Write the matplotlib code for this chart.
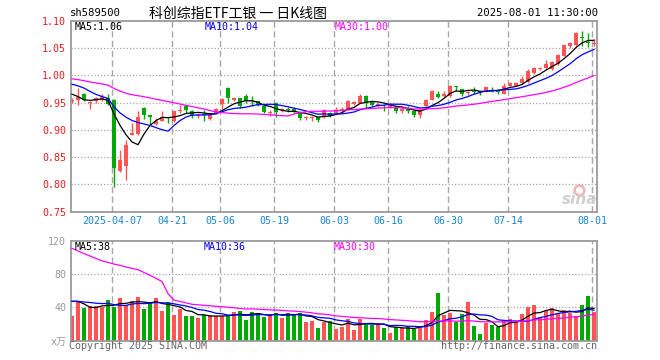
import numpy as np
import pandas as pd
import matplotlib
matplotlib.use("Agg")
import matplotlib.pyplot as plt

# ---------------- data ----------------
opens = [0.953, 0.955, 0.966, 0.949, 0.952, 0.955, 0.958, 0.955, 0.825, 0.834,
         0.891, 0.892, 0.940, 0.927, 0.911, 0.917, 0.922, 0.917, 0.934, 0.944,
         0.935, 0.925, 0.929, 0.919, 0.930, 0.948, 0.977, 0.954, 0.958, 0.962,
         0.955, 0.952, 0.943, 0.931, 0.950, 0.936, 0.938, 0.938, 0.932, 0.922,
         0.922, 0.923, 0.923, 0.930, 0.930, 0.934, 0.937, 0.948, 0.950, 0.962,
         0.952, 0.943, 0.942, 0.942, 0.941, 0.935, 0.939, 0.935, 0.927, 0.943,
         0.955, 0.966, 0.962, 0.962, 0.979, 0.974, 0.967, 0.971, 0.970, 0.970,
         0.975, 0.971, 0.966, 0.981, 0.981, 0.985, 0.987, 1.004, 1.012, 1.013,
         1.011, 1.020, 1.036, 1.053, 1.056, 1.069, 1.060, 1.057]
highs = [0.958, 0.977, 0.967, 0.953, 0.961, 0.965, 0.966, 0.957, 0.863, 0.882,
         0.913, 0.934, 0.941, 0.928, 0.921, 0.934, 0.924, 0.935, 0.945, 0.946,
         0.936, 0.930, 0.937, 0.930, 0.940, 0.958, 0.978, 0.961, 0.959, 0.965,
         0.962, 0.953, 0.944, 0.937, 0.951, 0.940, 0.942, 0.941, 0.934, 0.926,
         0.925, 0.924, 0.939, 0.933, 0.942, 0.942, 0.954, 0.953, 0.965, 0.963,
         0.954, 0.950, 0.948, 0.947, 0.944, 0.944, 0.944, 0.936, 0.938, 0.957,
         0.973, 0.972, 0.971, 0.983, 0.981, 0.975, 0.972, 0.979, 0.972, 0.979,
         0.979, 0.974, 0.985, 0.988, 0.987, 0.998, 1.012, 1.015, 1.015, 1.028,
         1.027, 1.039, 1.057, 1.061, 1.079, 1.081, 1.078, 1.066]
lows = [0.950, 0.946, 0.952, 0.938, 0.950, 0.953, 0.945, 0.796, 0.823, 0.809,
        0.890, 0.891, 0.920, 0.910, 0.909, 0.916, 0.913, 0.915, 0.930, 0.930,
        0.922, 0.921, 0.917, 0.918, 0.929, 0.939, 0.949, 0.953, 0.940, 0.950,
        0.943, 0.944, 0.930, 0.926, 0.923, 0.932, 0.933, 0.931, 0.918, 0.918,
        0.917, 0.915, 0.922, 0.924, 0.929, 0.933, 0.936, 0.946, 0.949, 0.940,
        0.944, 0.942, 0.934, 0.940, 0.931, 0.930, 0.930, 0.923, 0.921, 0.942,
        0.954, 0.959, 0.961, 0.961, 0.971, 0.962, 0.963, 0.965, 0.963, 0.969,
        0.970, 0.966, 0.965, 0.980, 0.980, 0.984, 0.986, 1.003, 1.010, 1.012,
        1.010, 1.019, 1.035, 1.050, 1.054, 1.054, 1.052, 1.054]
closes = [0.954, 0.961, 0.954, 0.950, 0.958, 0.960, 0.948, 0.830, 0.845, 0.872,
          0.894, 0.923, 0.928, 0.923, 0.917, 0.923, 0.921, 0.934, 0.935, 0.937,
          0.928, 0.926, 0.928, 0.928, 0.938, 0.956, 0.958, 0.959, 0.943, 0.952,
          0.953, 0.946, 0.932, 0.932, 0.932, 0.937, 0.937, 0.932, 0.921, 0.923,
          0.923, 0.918, 0.937, 0.926, 0.937, 0.939, 0.952, 0.951, 0.962, 0.949,
          0.946, 0.948, 0.941, 0.946, 0.935, 0.939, 0.934, 0.927, 0.936, 0.954,
          0.972, 0.960, 0.966, 0.981, 0.978, 0.966, 0.970, 0.970, 0.969, 0.978,
          0.974, 0.970, 0.981, 0.986, 0.986, 0.993, 1.007, 1.013, 1.013, 1.021,
          1.025, 1.038, 1.055, 1.059, 1.077, 1.068, 1.059, 1.058]
volumes = [29.6, 46, 39.6, 41.6, 41, 40, 48.8, 40.8, 51, 43,
           47, 52, 38, 46, 51, 35.6, 46.4, 31, 38, 29.6,
           29.6, 27, 30.4, 30.4, 29.6, 29.6, 29.6, 34.4, 35.6, 24.8,
           34.4, 32.8, 28.8, 29.6, 33.6, 27.2, 33.6, 30.8, 33.6, 22.4,
           23.6, 15.2, 22.8, 24, 14.4, 16.8, 26.4, 12.8, 25.6, 20,
           18.4, 20, 15.2, 9.6, 16.8, 14.8, 17.6, 13.6, 17.6, 24.8,
           34.4, 57.6, 30.8, 33.6, 22.8, 32, 46.8, 17.6, 8, 21.6,
           18.8, 16.8, 24, 26.4, 22.8, 32, 40.8, 43.2, 28.8, 36,
           38.8, 32, 36.8, 33, 29.6, 42.8, 53.6, 34.4]

# sessions before the visible window (only feed the moving averages)
prior_closes = [1.008, 1.012, 1.018, 1.015, 1.010, 1.016, 1.012, 0.995, 0.985, 0.978,
                0.975, 0.982, 0.988, 0.992, 0.985, 0.990, 0.998, 1.004, 1.006, 1.002,
                0.990, 0.995, 1.010, 1.013, 1.000, 0.983, 0.984, 0.955, 0.951]
prior_volumes = [140, 135, 130, 128, 127, 105, 100, 98, 102, 95,
                 100, 140, 150, 155, 156, 480, 266, 85, 80, 82,
                 45, 48, 47, 50, 44, 47, 54.6, 61.6, 43.2]

tick_index = [7, 17, 25, 34, 44, 53, 63, 73, 87]
tick_labels = ["2025-04-07", "04-21", "05-06", "05-19", "06-03",
               "06-16", "06-30", "07-14", "08-01"]
price_ticks = [0.75, 0.80, 0.85, 0.90, 0.95, 1.00, 1.05, 1.10]
price_tick_labels = ["0.75", "0.80", "0.85", "0.90", "0.95", "1.00", "1.05", "1.10"]
vol_ticks = [0, 40, 80, 120]
vol_tick_labels = ["x万", "40", "80", "120"]

price_ma_text = ["MA5:1.06", "MA10:1.04", "MA30:1.00"]
vol_ma_text = ["MA5:38", "MA10:36", "MA30:30"]
header_code = "sh589500"
header_title = "科创综指ETF工银 一 日K线图"
header_time = "2025-08-01 11:30:00"

# ---------------- computation ----------------
o = np.array(opens); h = np.array(highs); l = np.array(lows); c = np.array(closes)
v = np.array(volumes)
n = len(c)
idx = np.arange(n)
npri = len(prior_closes)
call = pd.Series(list(prior_closes) + list(closes))
vall = pd.Series(list(prior_volumes) + list(volumes))
ma = {k: call.rolling(k, min_periods=1).mean().values[npri:] for k in (5, 10, 30)}
vma = {k: vall.rolling(k, min_periods=1).mean().values[npri:] for k in (5, 10, 30)}

RED = "#ff5454"
GREEN = "#00a800"
up = c >= o
cols = np.where(up, RED, GREEN)
ma_cols = {5: "black", 10: "#0000ff", 30: "#ff00ff"}

W, H = 660, 360
MONO = "DejaVu Sans Mono"
FS = 7.2

fig = plt.figure(figsize=(6.6, 3.6), dpi=100)
fig.patch.set_facecolor("white")

def px_axes(x0, y0, x1, y1):
    return fig.add_axes([x0 / W, 1 - y1 / H, (x1 - x0) / W, (y1 - y0) / H])

ax1 = px_axes(70.7, 20.7, 597, 211.7)
ax2 = px_axes(70.7, 240.7, 597, 340.5)

XL = (-0.22, 87.5)
grid_x = np.array(tick_index) - 0.28
SPINE = "#9a9a9a"
GRIDC = "#a8a8a8"

for ax in (ax1, ax2):
    ax.set_xlim(*XL)
    for s in ax.spines.values():
        s.set_color(SPINE)
        s.set_linewidth(1.3)
    for gx in grid_x:
        ax.axvline(gx, color=GRIDC, lw=1.0, ls=(0, (4.5, 2.5)), zorder=0)
    ax.tick_params(length=0)

# price panel
ax1.set_ylim(0.75, 1.10)
for gy in price_ticks[1:-1]:
    ax1.axhline(gy, color=GRIDC, lw=0.9, ls=(0, (1, 1.6)), zorder=0)
ax1.vlines(idx, l, h, colors=cols, lw=1.0, zorder=2)
body_b = np.minimum(o, c)
body_h = np.maximum(np.abs(c - o), 0.0016)
ax1.bar(idx, body_h, bottom=body_b, width=0.78, color=cols, edgecolor="none",
        zorder=3, antialiased=False)
for k in (5, 10, 30):
    ax1.plot(idx, ma[k], color=ma_cols[k], lw=0.9, zorder=4)
ax1.set_yticks(price_ticks)
ax1.set_yticklabels(price_tick_labels, fontsize=FS, family=MONO, color="#ee1c1c")
ax1.set_xticks(grid_x)
ax1.set_xticklabels(tick_labels, fontsize=FS, family=MONO, color="#1a86d0")
ax1.tick_params(axis="x", pad=3.2)
ax1.tick_params(axis="y", pad=3.2)

# watermark (logo + word)
ax1.plot([(579 - 70.7) / 526.3], [(211.7 - 189.5) / 191.0], marker="o", ms=7,
         mfc="none", mec="#f3b3b3", mew=1.8, transform=ax1.transAxes, zorder=1)
ax1.text((580 - 70.7) / 526.3, (211.7 - 200) / 191.0, "sina", transform=ax1.transAxes,
         fontsize=11, family="DejaVu Sans", fontweight="bold", fontstyle="italic",
         color="#cfcfcf", ha="center", va="center", zorder=1)

# volume panel
ax2.set_ylim(0, 120)
for gy in vol_ticks[1:-1]:
    ax2.axhline(gy, color=GRIDC, lw=0.9, ls=(0, (1, 1.6)), zorder=0)
ax2.bar(idx, v, width=0.8, color=cols, edgecolor="none", zorder=2, antialiased=False)
for k in (5, 10, 30):
    ax2.plot(idx, vma[k], color=ma_cols[k], lw=0.9, zorder=4)
ax2.set_yticks(vol_ticks)
ax2.set_yticklabels(vol_tick_labels, fontsize=FS, family=[MONO, "Noto Sans CJK SC"], color="#999999")
ax2.set_xticks([])
ax2.tick_params(axis="y", pad=3.2)

# texts
def ftext(x, y, s, **kw):
    fig.text(x / W, 1 - y / H, s, va="center", **kw)

ftext(70, 13.5, header_code, fontsize=7.6, family=MONO, color="black")
ftext(238, 13.5, header_title, fontsize=10, family=["Noto Sans CJK SC", "DejaVu Sans"],
      color="black", ha="center")
ftext(598, 13.5, header_time, fontsize=7.6, family=MONO, color="black", ha="right")

for s, x, col in zip(price_ma_text, (75, 205, 335), ("black", "#0000ff", "#ff00ff")):
    ftext(x, 27.5, s, fontsize=FS, family=MONO, color=col)
for s, x, col in zip(vol_ma_text, (75, 204, 334), ("black", "#0000ff", "#ff00ff")):
    ftext(x, 246.5, s, fontsize=FS, family=MONO, color=col)

ftext(69, 346, "Copyright 2025 SINA.COM", fontsize=FS, family=MONO, color="#666666")
ftext(597, 346, "http://finance.sina.com.cn", fontsize=FS, family=MONO, color="#666666", ha="right")

fig.savefig("out.png", dpi=100, facecolor="white")
